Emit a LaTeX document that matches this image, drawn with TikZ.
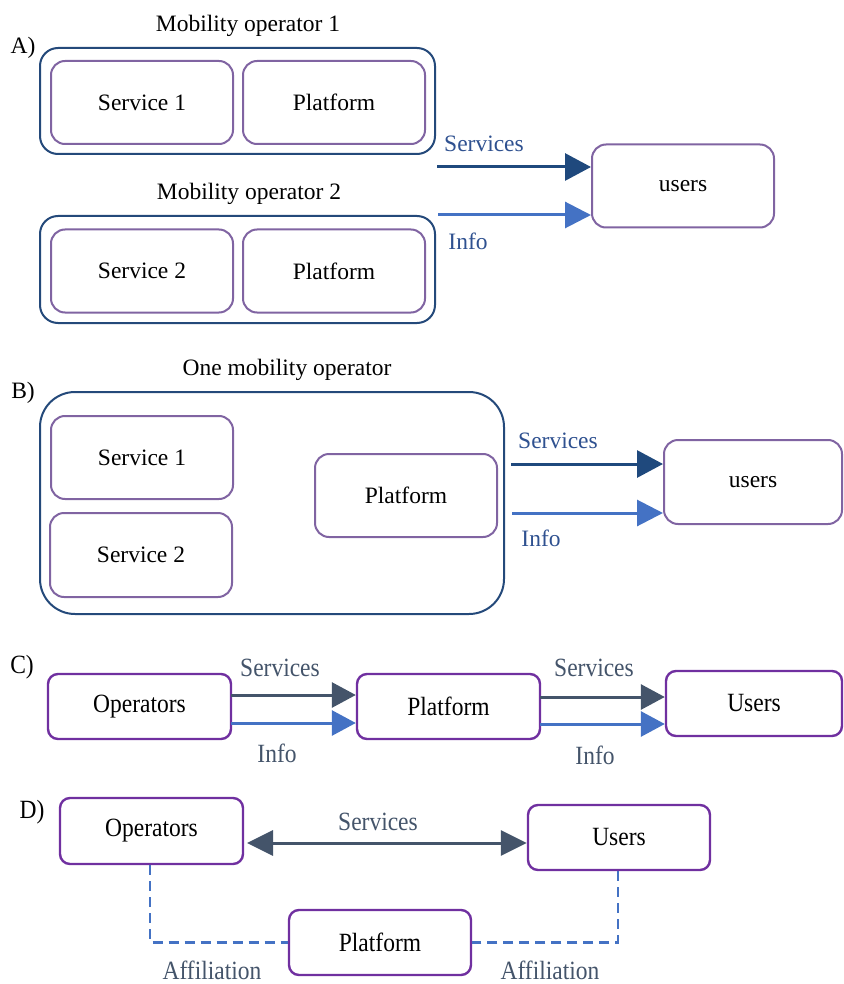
\documentclass[tikz,border=0pt]{standalone}
\usepackage{fontspec}
\usepackage{graphicx}
\setmainfont{Liberation Serif}
\usetikzlibrary{arrows.meta}
\definecolor{opblue}{HTML}{24497A}
\definecolor{inpurple}{HTML}{8064A2}
\definecolor{strongpurple}{HTML}{7030A0}
\definecolor{svcblue}{HTML}{1F497D}
\definecolor{infoblue}{HTML}{4472C4}
\definecolor{lblblue}{HTML}{2F5190}
\definecolor{slate}{HTML}{44546A}
\newcommand{\tallt}[1]{\scalebox{1}[1.12]{#1}}
\begin{document}
\begin{tikzpicture}[x=1pt,y=-1pt,
  font=\fontsize{23.5}{26}\selectfont,
  outerbox/.style={draw=opblue,line width=2pt,rounded corners=18pt,inner sep=0pt},
  innerbox/.style={draw=inpurple,line width=2pt,rounded corners=14pt,fill=white,
     minimum width=182pt,minimum height=83pt,inner sep=0pt},
  pbox/.style={draw=strongpurple,line width=2.4pt,rounded corners=10pt,fill=white,
     minimum width=183pt,minimum height=65pt,inner sep=0pt},
  svcarrow/.style={draw=svcblue,line width=3pt,-{Triangle[length=26pt,width=27pt]}},
  infoarrow/.style={draw=infoblue,line width=3pt,-{Triangle[length=26pt,width=26pt]}},
  slatearrow/.style={draw=slate,line width=3pt,-{Triangle[length=24pt,width=25pt]}},
  infoarrowC/.style={draw=infoblue,line width=3pt,-{Triangle[length=24pt,width=25pt]}},
  bothways/.style={draw=slate,line width=3pt,{Triangle[length=26pt,width=25pt]}-{Triangle[length=26pt,width=25pt]}},
  aff/.style={draw=infoblue,line width=2.4pt,dash pattern=on 10pt off 6pt},
  lblAB/.style={text=lblblue,inner sep=0pt},
  lblCD/.style={text=slate,inner sep=0pt},
  plain/.style={inner sep=0pt}
]
\useasboundingbox (0,0) rectangle (843,984);

% ---------------- A ----------------
\node[plain] (labA) at (23,48) {A)};
\node[plain] (titA1) at (248,26) {Mobility operator 1};
\node[outerbox,minimum width=395pt,minimum height=106pt] (opA1) at (237.5,101) {};
\node[innerbox] (s1A) at (142,102.5) {Service 1};
\node[innerbox] (pA1) at (334,102.5) {Platform};
\node[plain] (titA2) at (249,194) {Mobility operator 2};
\node[outerbox,minimum width=395pt,minimum height=107pt] (opA2) at (237.5,269.5) {};
\node[innerbox] (s2A) at (142,271) {Service 2};
\node[innerbox] (pA2) at (334,271) {Platform};
\node[innerbox] (usersA) at (683,186) {users};
\coordinate (aS) at (437,167);
\coordinate (aI) at (438,215);
\draw[svcarrow] (aS) -- (aS -| usersA.west);
\draw[infoarrow] (aI) -- (aI -| usersA.west);
\node[lblAB] (lSA) at (484,144) {Services};
\node[lblAB] (lIA) at (468,241) {Info};

% ---------------- B ----------------
\node[plain] (labB) at (23,393) {B)};
\node[plain] (titB) at (287,370) {One mobility operator};
\node[outerbox,rounded corners=35pt,minimum width=464pt,minimum height=222pt] (opB) at (272,503) {};
\node[innerbox] (s1B) at (142,457.5) {Service 1};
\node[innerbox,minimum height=84pt] (s2B) at (141,555) {Service 2};
\node[innerbox] (pB) at (406,495.5) {Platform};
\node[innerbox,minimum width=178pt,minimum height=84pt] (usersB) at (753,482) {users};
\coordinate (bS) at (511,464);
\coordinate (bI) at (512,513);
\draw[svcarrow] (bS) -- (bS -| usersB.west);
\draw[infoarrow] (bI) -- (bI -| usersB.west);
\node[lblAB] (lSB) at (558,441) {Services};
\node[lblAB] (lIB) at (541,538) {Info};

% ---------------- C ----------------
\node[plain] (labC) at (22,667) {\tallt{C)}};
\node[pbox] (opC) at (139.5,706.5) {\tallt{Operators}};
\node[pbox] (pC) at (448.5,706.5) {\tallt{Platform}};
\node[pbox,minimum width=176pt] (usersC) at (754,703.5) {\tallt{Users}};
\coordinate (c1S) at (231,695);
\coordinate (c1I) at (231,723);
\coordinate (c2S) at (540,697);
\coordinate (c2I) at (540,724);
\draw[slatearrow] (c1S) -- (c1S -| pC.west);
\draw[infoarrowC] (c1I) -- (c1I -| pC.west);
\draw[slatearrow] (c2S) -- (c2S -| usersC.west);
\draw[infoarrowC] (c2I) -- (c2I -| usersC.west);
\node[lblCD] (lSC1) at (280,668) {\tallt{Services}};
\node[lblCD] (lIC1) at (277,753) {\tallt{Info}};
\node[lblCD] (lSC2) at (594,668) {\tallt{Services}};
\node[lblCD] (lIC2) at (595,755) {\tallt{Info}};

% ---------------- D ----------------
\node[plain] (labD) at (32,812) {\tallt{D)}};
\node[pbox,minimum height=66pt] (opD) at (151.5,831) {\tallt{Operators}};
\node[pbox,minimum width=182pt] (usersD) at (619,837.5) {\tallt{Users}};
\node[pbox,minimum width=182pt] (pD) at (380,942.5) {\tallt{Platform}};
\coordinate (dL) at (247,843);
\draw[bothways] (dL) -- (dL -| usersD.west);
\node[lblCD] (lSD) at (378,822) {\tallt{Services}};
\draw[aff] ([xshift=-1.5pt]opD.south) |- (pD.west);
\draw[aff] ([xshift=-1pt]usersD.south) |- (pD.east);
\node[lblCD] (lAD1) at (212,970) {\tallt{Affiliation}};
\node[lblCD] (lAD2) at (550,970) {\tallt{Affiliation}};
\end{tikzpicture}
\end{document}
